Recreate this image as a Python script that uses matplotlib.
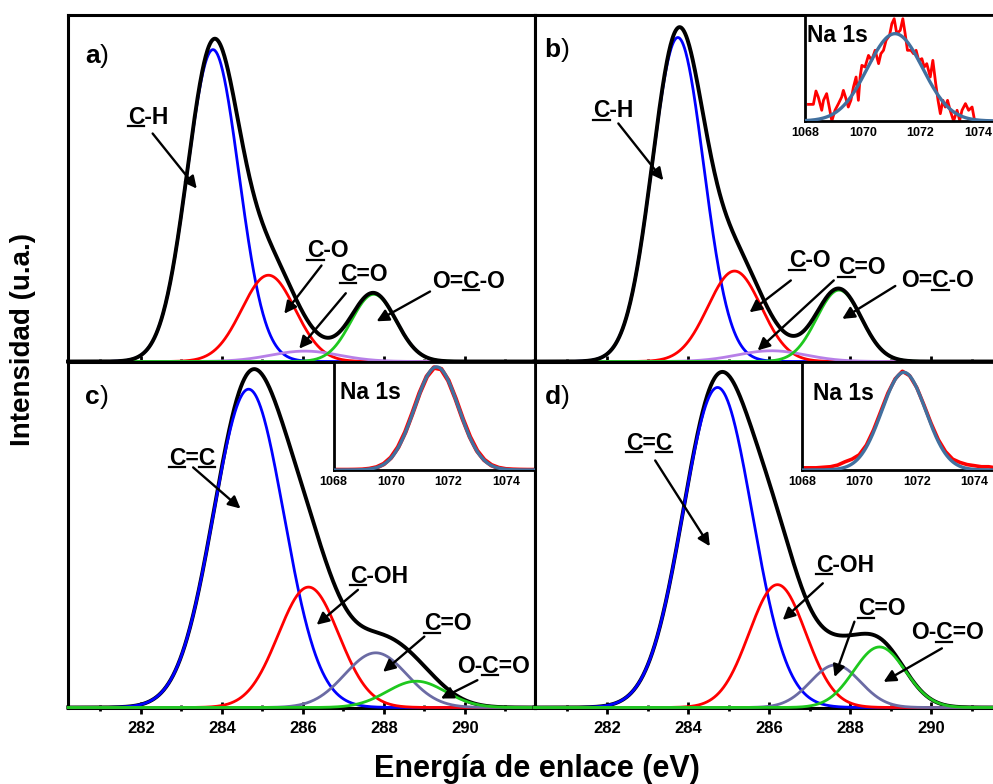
import matplotlib
matplotlib.use('Agg')
import matplotlib.pyplot as plt
import numpy as np
from matplotlib.lines import Line2D
from matplotlib.ticker import MultipleLocator

plt.rcParams['font.family'] = ['Liberation Sans', 'DejaVu Sans']
plt.rcParams['font.weight'] = 'bold'

# ---- C 1s fitted components (centre eV, height % of panel, FWHM eV) ----
x_range = (280.2, 291.72)

a_center = [283.78, 285.15, 286.05, 287.75]
a_height = [90.0, 24.9, 3.0, 19.4]
a_fwhm = [1.5, 1.55, 2.0, 1.3]

b_center = [283.74, 285.14, 286.05, 287.72]
b_height = [93.5, 26.1, 3.1, 20.6]
b_fwhm = [1.5, 1.55, 2.0, 1.3]

c_center = [284.66, 286.14, 287.80, 288.80]
c_height = [92.0, 34.8, 15.8, 7.6]
c_fwhm = [2.05, 1.76, 1.8, 1.7]

d_center = [284.72, 286.20, 287.63, 288.72]
d_height = [92.5, 35.5, 12.3, 17.5]
d_fwhm = [2.02, 1.65, 1.45, 1.5]

ab_labels = [('C-H', [0]), ('C-O', [0]), ('C=O', [0]), ('O=C-O', [2])]
cd_labels = [('C=C', [0, 2]), ('C-OH', [0]), ('C=O', [0]), ('O-C=O', [2])]

# label centre, arrow tail, arrow head (data coords)
a_text_xy = [(282.18, 70.5), (286.62, 31.9), (287.50, 25.2), (290.08, 23.2)]
a_arrow_from = [(282.29, 65.8), (286.46, 27.7), (287.06, 19.7), (289.14, 20.2)]
a_arrow_to = [(283.38, 49.9), (285.54, 13.8), (285.91, 3.7), (287.82, 11.6)]

b_text_xy = [(282.15, 72.4), (287.00, 29.1), (288.29, 27.1), (290.15, 23.3)]
b_arrow_from = [(282.27, 68.7), (286.53, 23.4), (287.59, 23.4), (289.11, 21.8)]
b_arrow_to = [(283.38, 52.3), (285.51, 14.2), (285.71, 3.2), (287.80, 12.3)]

c_text_xy = [(283.26, 72.0), (287.88, 38.0), (289.58, 24.2), (290.70, 11.9)]
c_arrow_from = [(283.29, 69.4), (287.36, 34.0), (289.00, 20.5), (290.31, 7.9)]
c_arrow_to = [(284.46, 57.5), (286.34, 23.9), (287.98, 10.3), (289.41, 2.6)]

d_text_xy = [(283.03, 76.4), (287.87, 41.1), (288.77, 28.6), (290.39, 21.6)]
d_arrow_from = [(283.18, 71.4), (287.32, 35.9), (288.10, 24.8), (290.26, 17.1)]
d_arrow_to = [(284.53, 46.6), (286.33, 25.3), (287.61, 8.8), (288.82, 7.4)]

panel_letters = ['a', 'b', 'c', 'd']
letter_xy = [(280.62, 88.2), (280.45, 89.9), (280.62, 89.8), (280.45, 89.8)]

# ---- Na 1s insets ----
na_ticks = [1068, 1070, 1072, 1074]

nab_red_e = [1068.12, 1068.29, 1068.38, 1068.46, 1068.58, 1068.64, 1068.75, 1068.84, 1068.93, 1069.04,
             1069.16, 1069.27, 1069.33, 1069.42, 1069.50, 1069.59, 1069.68, 1069.77, 1069.85, 1069.91,
             1069.97, 1070.08, 1070.20, 1070.31, 1070.43, 1070.55, 1070.63, 1070.72, 1070.81, 1070.93,
             1071.01, 1071.09, 1071.18, 1071.30, 1071.39, 1071.47, 1071.55, 1071.67, 1071.76, 1071.85,
             1071.94, 1072.05, 1072.13, 1072.22, 1072.34, 1072.43, 1072.53, 1072.61, 1072.69, 1072.78,
             1072.86, 1072.94, 1073.03, 1073.15, 1073.27, 1073.36, 1073.44, 1073.56, 1073.67, 1073.79,
             1073.88]
nab_red_i = [0.157, 0.157, 0.283, 0.226, 0.101, 0.195, 0.258, 0.132, 0.0, 0.101,
             0.164, 0.226, 0.289, 0.211, 0.132, 0.195, 0.321, 0.415, 0.195, 0.415,
             0.525, 0.509, 0.619, 0.572, 0.667, 0.541, 0.635, 0.667, 0.761, 0.808,
             0.918, 0.965, 0.824, 0.855, 0.965, 0.824, 0.667, 0.667, 0.635, 0.667,
             0.572, 0.588, 0.509, 0.541, 0.415, 0.572, 0.352, 0.195, 0.069, 0.195,
             0.132, 0.195, 0.101, 0.0, 0.101, 0.006, 0.101, 0.164, 0.101, 0.132,
             0.0]

na_grid = [1068.0, 1068.25, 1068.5, 1068.75, 1069.0, 1069.25, 1069.5, 1069.75, 1070.0, 1070.25,
           1070.5, 1070.75, 1071.0, 1071.25, 1071.5, 1071.75, 1072.0, 1072.25, 1072.5, 1072.75,
           1073.0, 1073.25, 1073.5, 1073.75, 1074.0, 1074.25, 1074.5, 1074.75, 1075.0]
nac_red_i = [0.0, 0.0, 0.0, 0.001, 0.003, 0.010, 0.024, 0.055, 0.113, 0.210,
             0.349, 0.524, 0.710, 0.862, 0.944, 0.930, 0.825, 0.659, 0.472, 0.306,
             0.177, 0.093, 0.044, 0.019, 0.007, 0.003, 0.001, 0.0, 0.0]
nad_red_i = [0.02, 0.02, 0.02, 0.025, 0.03, 0.045, 0.075, 0.10, 0.14, 0.23,
             0.37, 0.54, 0.71, 0.84, 0.91, 0.87, 0.76, 0.60, 0.43, 0.28,
             0.17, 0.10, 0.07, 0.05, 0.04, 0.03, 0.03, 0.02, 0.02]

# Na 1s fit: centre, height, fwhm
nab_fit = (1071.12, 0.824, 2.25)
nac_fit = (1071.59, 0.95, 1.8)
nad_fit = (1071.55, 0.90, 1.8)

BLUE, RED, GREEN = '#0000ff', '#ff0000', '#1ec81e'
comp_colors_ab = [BLUE, RED, '#b77fe8', GREEN]
comp_colors_cd = [BLUE, RED, '#6b6ba4', GREEN]
FIT_BLUE = '#41709f'

W, H = 993, 784
fig = plt.figure(figsize=(W / 100, H / 100), dpi=100)


def px_axes(left, top, right, bottom):
    return fig.add_axes([left / W, 1 - bottom / H, (right - left) / W, (bottom - top) / H])


def gauss(x, c, h, fwhm):
    s = fwhm / 2.3548
    return h * np.exp(-0.5 * ((x - c) / s) ** 2)


underlines = []


def draw_panel(ax, centers, heights, fwhms, colors, env_on_top, labels,
               text_xy, arr_from, arr_to, letter, lxy, bottom_labels):
    x = np.linspace(x_range[0], x_range[1], 800)
    comps = [gauss(x, c, h, f) for c, h, f in zip(centers, heights, fwhms)]
    env = np.sum(comps, axis=0)
    z_env = 4 if env_on_top else 2
    ax.plot(x, env, color='k', lw=2.8, zorder=z_env, clip_on=False)
    for y, col in zip(comps, colors):
        ax.plot(x, y, color=col, lw=2.0, zorder=3, clip_on=False)
    ax.set_xlim(*x_range)
    ax.set_ylim(0, 100)
    for sp in ax.spines.values():
        sp.set_linewidth(2.2)
    ax.set_xticks([282, 284, 286, 288, 290])
    ax.xaxis.set_minor_locator(MultipleLocator(1))
    ax.tick_params(axis='x', which='major', direction='inout', length=8, width=2,
                   labelsize=12, pad=5.5, labelbottom=bottom_labels)
    ax.tick_params(axis='x', which='minor', direction='inout', length=4, width=2)
    ax.tick_params(axis='y', left=False, labelleft=False)

    for (s, idx), xy, p0, p1 in zip(labels, text_xy, arr_from, arr_to):
        t = ax.text(xy[0], xy[1], s, ha='center', va='center', fontsize=16.5,
                    fontweight='bold', zorder=6)
        underlines.append((t, idx))
        ax.annotate('', xy=p1, xytext=p0, zorder=6,
                    arrowprops=dict(arrowstyle='-|>', color='k', lw=1.7,
                                    mutation_scale=18, shrinkA=0, shrinkB=0))
    lt = ax.text(lxy[0], lxy[1], letter, ha='left', va='center', fontsize=19,
                 fontweight='bold')
    ax.annotate(')', xy=(1, 0.5), xycoords=lt, ha='left', va='center',
                fontsize=19, fontweight='normal')


def draw_inset(ax, red_e, red_i, fit, red_lw, text_pos):
    x = np.linspace(1068, 1075, 400)
    ax.plot(red_e, red_i, color=RED, lw=red_lw, zorder=2)
    ax.plot(x, gauss(x, *fit), color=FIT_BLUE, lw=2.4, zorder=3)
    ax.set_xlim(1068, 1075)
    ax.set_ylim(0, 1)
    ax.set_xticks(na_ticks)
    ax.tick_params(axis='x', length=0, labelsize=9, pad=4)
    ax.tick_params(axis='y', left=False, labelleft=False)
    for sp in ax.spines.values():
        sp.set_linewidth(2)
    ax.text(text_pos[0], text_pos[1], 'Na 1s', transform=ax.transAxes, ha='left',
            va='center', fontsize=16.5, fontweight='bold')


ax_a = px_axes(68, 15, 534.5, 361.5)
ax_c = px_axes(68, 361.5, 534.5, 707.5)
ax_b = px_axes(534.5, 15, 1001, 361.5)
ax_d = px_axes(534.5, 361.5, 1001, 707.5)

draw_panel(ax_a, a_center, a_height, a_fwhm, comp_colors_ab, True, ab_labels,
           a_text_xy, a_arrow_from, a_arrow_to, panel_letters[0], letter_xy[0], False)
draw_panel(ax_b, b_center, b_height, b_fwhm, comp_colors_ab, True, ab_labels,
           b_text_xy, b_arrow_from, b_arrow_to, panel_letters[1], letter_xy[1], False)
draw_panel(ax_c, c_center, c_height, c_fwhm, comp_colors_cd, False, cd_labels,
           c_text_xy, c_arrow_from, c_arrow_to, panel_letters[2], letter_xy[2], True)
draw_panel(ax_d, d_center, d_height, d_fwhm, comp_colors_cd, False, cd_labels,
           d_text_xy, d_arrow_from, d_arrow_to, panel_letters[3], letter_xy[3], True)

ins_b = px_axes(805, 15, 1007, 121)
ins_c = px_axes(333.5, 361.5, 534.5, 470)
ins_d = px_axes(801.7, 361.5, 1003, 470)
draw_inset(ins_b, nab_red_e, nab_red_i, nab_fit, 2.0, (0.012, 0.807))
draw_inset(ins_c, na_grid, nac_red_i, nac_fit, 3.3, (0.032, 0.71))
draw_inset(ins_d, na_grid, nad_red_i, nad_fit, 2.6, (0.057, 0.705))

fig.text(536.5 / W, 1 - 776.7 / H, 'Energía de enlace (eV)', ha='center', va='baseline',
         fontsize=22, fontweight='bold')
fig.text(23 / W, 1 - 339 / H, 'Intensidad (u.a.)', rotation=90, ha='center', va='center',
         fontsize=20, fontweight='bold')

# underline the marked carbon atoms
fig.canvas.draw()
r = fig.canvas.get_renderer()
inv = fig.transFigure.inverted()
for t, idxs in underlines:
    s = t.get_text()
    prop = t.get_fontproperties()
    bb = t.get_window_extent(r)
    d = r.get_text_width_height_descent('lp', prop, ismath=False)[2]
    em = prop.get_size_in_points() * fig.dpi / 72
    y = bb.y0 + d - 0.11 * em
    for i in idxs:
        w0 = r.get_text_width_height_descent(s[:i], prop, ismath=False)[0] if i else 0
        w1 = r.get_text_width_height_descent(s[:i + 1], prop, ismath=False)[0]
        pts = inv.transform([(bb.x0 + w0, y), (bb.x0 + w1, y)])
        fig.add_artist(Line2D(pts[:, 0], pts[:, 1], color='k', lw=1.6,
                              transform=fig.transFigure))

fig.savefig('out.png', dpi=100)
